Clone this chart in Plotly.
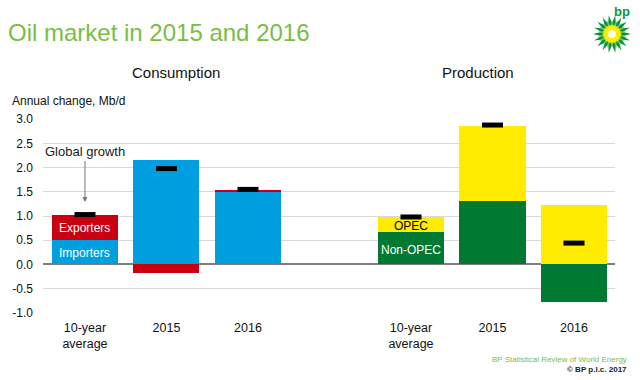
import math
import plotly.graph_objects as go

# ---------------- data ----------------
groups = ["Consumption", "Production"]
categories = ["10-year<br>average", "2015", "2016"]
importers = [0.50, 2.15, 1.50]
exporters = [0.53, -0.17, 0.03]
consumption_growth = [1.03, 1.98, 1.55]
non_opec = [0.67, 1.31, -0.77]
opec = [0.31, 1.56, 1.22]
production_growth = [0.98, 2.88, 0.44]
y_ticks = [-1.0, -0.5, 0.0, 0.5, 1.0, 1.5, 2.0, 2.5, 3.0]

# ---------------- layout helpers ----------------
W, H = 640, 380
L, R, T, B = 43, 25, 119, 67
PW, PH = W - L - R, H - T - B


def px(x):
    return (x - L) / PW


def py(y):
    return (H - B - y) / PH


x_cons = list(range(len(categories)))
x_prod = [i + len(categories) + 1 for i in range(len(categories))]

BLUE = "#009FDF"
RED = "#C8000F"
YELLOW = "#FFEC00"
GREEN = "#007A33"
BAR_W = 0.81

fig = go.Figure()
fig.add_bar(x=x_cons, y=importers, width=BAR_W, marker=dict(color=BLUE, line=dict(width=0)), name="Importers")
fig.add_bar(x=x_cons, y=exporters, width=BAR_W, marker=dict(color=RED, line=dict(width=0)), name="Exporters")
fig.add_bar(x=x_prod, y=non_opec, width=BAR_W, marker=dict(color=GREEN, line=dict(width=0)), name="Non-OPEC")
fig.add_bar(x=x_prod, y=opec, width=BAR_W, marker=dict(color=YELLOW, line=dict(width=0)), name="OPEC")
growth_marker = dict(symbol="line-ew", size=15, line=dict(width=5, color="black"))
fig.add_scatter(x=x_cons, y=consumption_growth, mode="markers", marker=growth_marker, name="Global growth")
fig.add_scatter(x=x_prod, y=production_growth, mode="markers", marker=growth_marker, name="Global growth")

FONT = "Liberation Sans, Arial, sans-serif"
ann = []
# in-bar labels
ann.append(dict(x=x_cons[0], y=importers[0] + exporters[0] / 2, text="Exporters", showarrow=False,
                font=dict(color="white", size=12), yshift=-1))
ann.append(dict(x=x_cons[0], y=importers[0] / 2, text="Importers", showarrow=False,
                font=dict(color="white", size=12), yshift=-1))
ann.append(dict(x=x_prod[0], y=non_opec[0] + opec[0] / 2, text="OPEC", showarrow=False,
                font=dict(color="black", size=12), yshift=-2))
ann.append(dict(x=x_prod[0], y=non_opec[0] / 2, text="Non-OPEC", showarrow=False,
                font=dict(color="white", size=12), yshift=-2))
# global growth callout
ann.append(dict(x=x_cons[0], y=1.29, text="Global growth", showarrow=True, ax=0, ay=-50,
                arrowhead=2, arrowsize=1, arrowwidth=1, arrowcolor="#777777",
                font=dict(color="#1a1a1a", size=13)))


def note(x, y, text, size, color, xanchor="center"):
    return dict(xref="paper", yref="paper", x=px(x), y=py(y), xanchor=xanchor, yanchor="middle",
                text=text, showarrow=False, font=dict(size=size, color=color))


# group headings
ann.append(note(176, 72, groups[0], 15, "#111111"))
ann.append(note(478, 72, groups[1], 15, "#111111"))
# axis caption
ann.append(note(10, 101, "Annual change, Mb/d", 12, "#111111", "left"))
# footer
ann.append(note(629, 359, "BP Statistical Review of World Energy", 8, "#7DBE3C", "right"))
ann.append(note(629, 369, "<b>© BP p.l.c. 2017</b>", 8, "#222222", "right"))
# logo text
ann.append(note(622, 11, "<b>bp</b>", 13, "#009A3E"))


def star(n, r_out, r_in, rot=0.0):
    pts = []
    for i in range(2 * n):
        r = r_out if i % 2 == 0 else r_in
        a = rot + math.pi * i / n
        pts.append((r * math.cos(a), r * math.sin(a)))
    return "M " + " L ".join(f"{x:.2f},{y:.2f}" for x, y in pts) + " Z"


cx, cy = px(612), py(34)
shapes = []
for path, col in [(star(18, 19, 11), "#00923F"), (star(18, 14.5, 8, math.pi / 18), "#7CC242")]:
    shapes.append(dict(type="path", xref="paper", yref="paper", xsizemode="pixel", ysizemode="pixel",
                       xanchor=cx, yanchor=cy, path=path, fillcolor=col, line=dict(width=0), layer="above"))
for r, col in [(9, "#E6E619"), (7, "#FFEE00"), (4, "#FFFFE6")]:
    shapes.append(dict(type="circle", xref="paper", yref="paper", xsizemode="pixel", ysizemode="pixel",
                       xanchor=cx, yanchor=cy, x0=-r, x1=r, y0=-r, y1=r, fillcolor=col,
                       line=dict(width=0), layer="above"))

fig.update_layout(
    width=W, height=H,
    margin=dict(l=L, r=R, t=T, b=B, pad=0),
    paper_bgcolor="white", plot_bgcolor="white",
    barmode="relative", bargap=0,
    showlegend=False,
    font=dict(family=FONT, size=12, color="#111111"),
    title=dict(text="Oil market in 2015 and 2016", xref="container", yref="container",
               x=8 / W, xanchor="left", y=1 - 33 / H, yanchor="middle",
               font=dict(family=FONT, size=24, color="#78BE43")),
    annotations=ann,
    shapes=shapes,
    xaxis=dict(range=[-0.515, 6.503], tickvals=x_cons + x_prod, ticktext=categories + categories,
               showgrid=False, zeroline=False, showline=False, ticks="", ticklabelstandoff=5,
               tickfont=dict(size=12.5, color="#111111")),
    yaxis=dict(range=[-1.005, 3.005], tickvals=y_ticks, ticktext=[f"{v:.1f}" for v in y_ticks],
               showgrid=True, gridcolor="#D9D9D9", gridwidth=1,
               zeroline=True, zerolinecolor="#808080", zerolinewidth=1.5,
               showline=False, ticks="", ticklabelstandoff=9,
               tickfont=dict(size=12, color="#111111")),
)

fig.write_html("out.html", config={"displayModeBar": False},
               post_script="document.body.style.margin='0';")
